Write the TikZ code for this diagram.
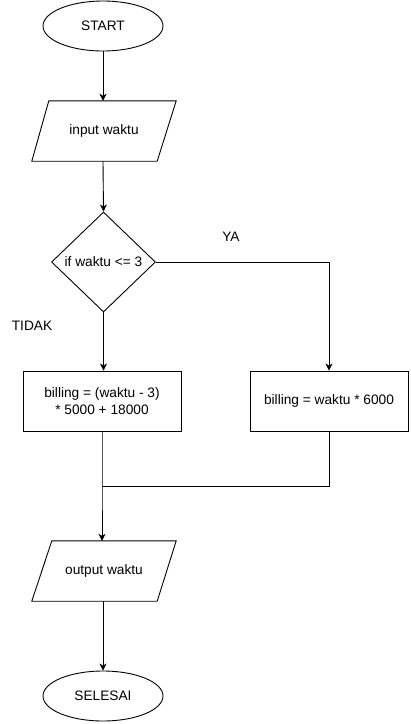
\documentclass[tikz,border=0pt]{standalone}
\usepackage{fontspec}
\setmainfont{Liberation Sans}
\usetikzlibrary{shapes.geometric,arrows.meta}
\begin{document}
\begin{tikzpicture}[x=1pt,y=-1pt,
  every node/.style={font=\fontsize{13.7}{17}\selectfont, inner sep=0pt},
  term/.style={ellipse, draw, line width=0.9pt, minimum width=120pt, minimum height=50pt},
  iobox/.style={rectangle, minimum width=144pt, minimum height=60pt},
  procbox/.style={rectangle, draw, line width=0.9pt, minimum width=158pt, minimum height=60pt, align=center},
  decbox/.style={diamond, draw, line width=0.9pt, minimum width=104pt, minimum height=100pt},
  lbl/.style={},
  link/.style={line width=0.9pt},
  arr/.style={line width=0.9pt, -{Stealth[length=7pt,width=7pt,inset=2pt]}}]
\useasboundingbox (0,0) rectangle (411,724);
\node[term] (start) at (103,26) {START};
\node[iobox] (input) at (104,131) {input waktu};
\draw[link] ([xshift=17pt]input.north west) -- (input.north east) -- ([xshift=-19pt]input.south east) -- (input.south west) -- cycle;
\node[decbox] (dec) at (103.5,262) {if waktu <= 3};
\node[procbox] (lbox) at (102,401) {billing = (waktu - 3)\\* 5000 + 18000};
\node[procbox] (rbox) at (329,401) {billing = waktu * 6000};
\node[iobox] (output) at (104,571) {output waktu};
\draw[link] ([xshift=20pt]output.north west) -- (output.north east) -- ([xshift=-19pt]output.south east) -- (output.south west) -- cycle;
\node[term] (end) at (103,696) {SELESAI};
\node[lbl] (ya) at (231,237) {YA};
\node[lbl] (tidak) at (32,326) {TIDAK};
\coordinate (join) at (102,486);
\draw[arr] (start.south) -- (start.south |- input.north);
\draw[arr] (input.south -| start.south) -- (dec.north);
\draw[arr] (dec.south) -- (dec.south |- lbox.north);
\draw[arr] (dec.east) -| (rbox.north);
\draw[link] (rbox.south) |- (join);
\draw[arr] (lbox.south) -- (join) -- (join |- output.north);
\draw[arr] (output.south -| end.north) -- (end.north);
\end{tikzpicture}
\end{document}
